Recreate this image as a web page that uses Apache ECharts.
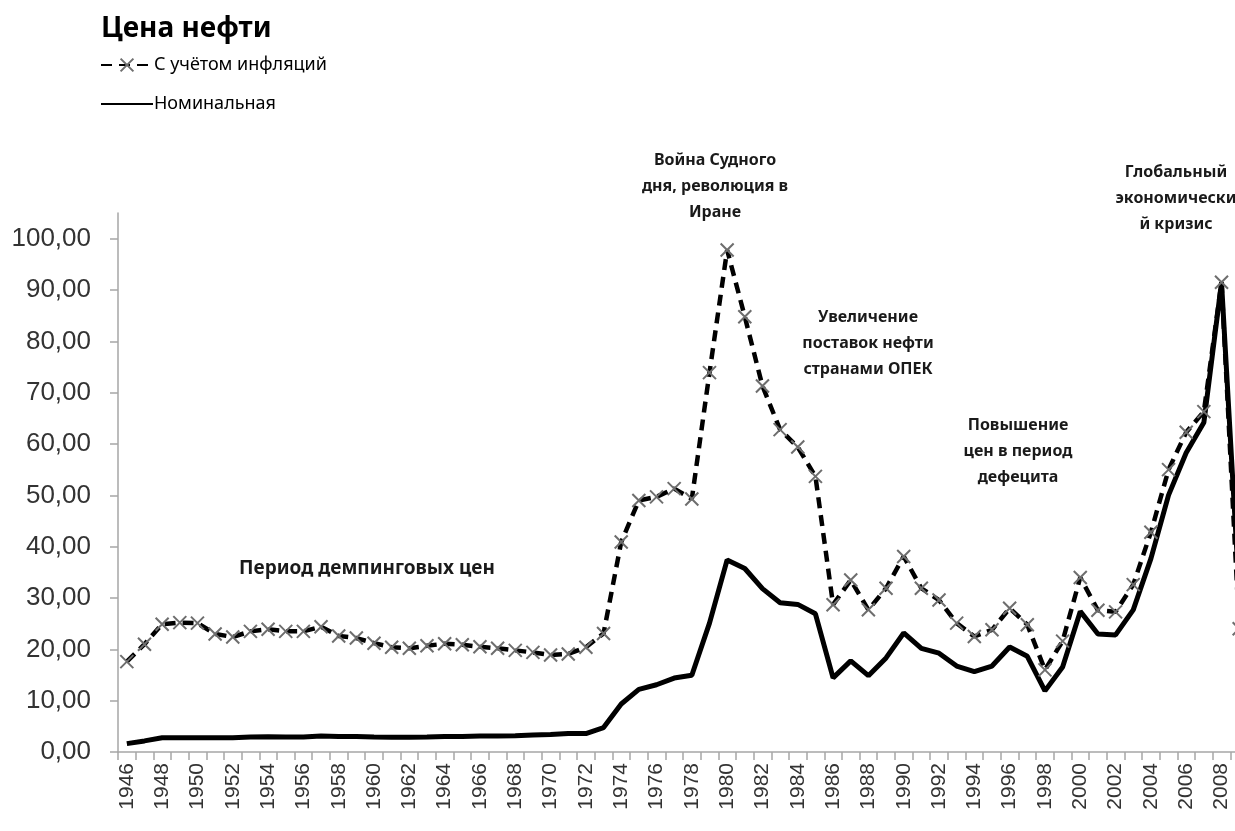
<!DOCTYPE html>
<html>
<head>
<meta charset="utf-8">
<script src="https://cdn.jsdelivr.net/npm/echarts@6/dist/echarts.min.js"></script>
<style>
  html, body { margin: 0; padding: 0; background: #fff; overflow: hidden; }
  #chart { width: 1250px; height: 831px; }
</style>
</head>
<body>
<div id="chart"></div>
<script>
// ---- data ----
const years = [];
for (let y = 1946; y <= 2009; y++) years.push(String(y));

const realPrice = [
  17.6, 21.0, 24.9, 25.2, 25.1, 23.0, 22.4, 23.5, 23.9, 23.5,
  23.5, 24.4, 22.6, 22.2, 21.2, 20.4, 20.2, 20.7, 21.1, 20.9,
  20.5, 20.2, 19.8, 19.4, 18.9, 19.1, 20.4, 23.1, 40.9, 49.0,
  49.7, 51.3, 49.3, 73.9, 97.8, 84.8, 71.3, 62.8, 59.4, 53.7,
  28.7, 33.5, 27.7, 31.9, 38.1, 31.9, 29.6, 25.1, 22.5, 23.8,
  28.0, 24.8, 16.0, 21.6, 34.0, 27.6, 27.3, 32.6, 42.8, 55.0,
  62.3, 66.3, 91.5, 24.0
];

const nominalPrice = [
  1.63, 2.16, 2.77, 2.77, 2.77, 2.77, 2.77, 2.92, 2.99, 2.93,
  2.94, 3.14, 3.00, 3.00, 2.91, 2.85, 2.85, 2.91, 3.00, 3.01,
  3.10, 3.12, 3.18, 3.32, 3.39, 3.60, 3.60, 4.75, 9.35, 12.21,
  13.10, 14.40, 14.95, 25.10, 37.42, 35.75, 31.83, 29.08, 28.75, 26.92,
  14.44, 17.75, 14.87, 18.33, 23.19, 20.20, 19.25, 16.75, 15.66, 16.75,
  20.46, 18.64, 11.91, 16.56, 27.39, 23.00, 22.81, 27.69, 37.66, 50.04,
  58.30, 64.20, 91.48, 31.0
];

const yTicks = [0, 10, 20, 30, 40, 50, 60, 70, 80, 90, 100];

const seriesNames = ['С учётом инфляций', 'Номинальная'];
const titleText = 'Цена нефти';

const notes = [
  { text: 'Война Судного\nдня, революция в\nИране', x: 715, y: 147, size: 16 },
  { text: 'Глобальный\nэкономически\nй кризис', x: 1176, y: 159, size: 16 },
  { text: 'Увеличение\nпоставок нефти\nстранами ОПЕК', x: 868, y: 304, size: 16 },
  { text: 'Повышение\nцен в период\nдефецита', x: 1018, y: 412, size: 16 },
  { text: 'Период демпинговых цен', x: 367, y: 556, size: 19 }
];

// ---- chart ----
const chart = echarts.init(document.getElementById('chart'), null, { renderer: 'canvas' });
const FONT = '"Noto Sans", "Open Sans", sans-serif';
const NUMFONT = '"Liberation Sans", Arial, sans-serif';

const option = {
  backgroundColor: '#ffffff',
  animation: false,
  title: {
    text: titleText,
    left: 96, top: 10,
    textStyle: { fontFamily: FONT, fontSize: 28, fontWeight: 'bold', color: '#000' }
  },
  legend: {
    orient: 'vertical',
    left: 95, top: 51,
    itemWidth: 52, itemHeight: 16, itemGap: 21,
    data: [
      { name: seriesNames[0] },
      { name: seriesNames[1], itemStyle: { color: 'rgba(0,0,0,0)', borderWidth: 0, opacity: 0 } }
    ],
    textStyle: { fontFamily: FONT, fontSize: 18, color: '#000', padding: [0, 0, 0, -4] }
  },
  grid: { left: 118, top: 213, bottom: 79, right: 2, containLabel: false },
  xAxis: {
    type: 'category',
    data: years,
    boundaryGap: true,
    axisLine: { lineStyle: { color: '#a6a6a6', width: 1.5 } },
    axisTick: { show: true, interval: 0, length: 8, lineStyle: { color: '#a6a6a6', width: 1.5 } },
    axisLabel: {
      interval: 1, rotate: 90, margin: 11,
      fontFamily: NUMFONT, fontSize: 21, color: '#333'
    },
    splitLine: { show: false }
  },
  yAxis: {
    type: 'value',
    min: 0, max: 105,
    axisLine: { show: true, lineStyle: { color: '#a6a6a6', width: 1.5 } },
    axisTick: { show: true, length: 8, customValues: yTicks, lineStyle: { color: '#a6a6a6', width: 1.5 } },
    axisLabel: {
      customValues: yTicks,
      margin: 27,
      fontFamily: NUMFONT, fontSize: 26, color: '#333',
      formatter: v => v.toFixed(2).replace('.', ',')
    },
    splitLine: { show: false }
  },
  series: [
    {
      name: seriesNames[0],
      type: 'line',
      data: realPrice,
      z: 3,
      symbol: 'path://M0,0L10,10M10,0L0,10',
      symbolSize: 13,
      showAllSymbol: true,
      itemStyle: { color: '#6e6e6e', borderColor: '#6e6e6e', borderWidth: 2 },
      lineStyle: { color: '#000', width: 4.5, type: [11, 7] }
    },
    {
      name: seriesNames[1],
      type: 'line',
      data: nominalPrice,
      z: 2,
      symbol: 'none',
      itemStyle: { color: '#000' },
      lineStyle: { color: '#000', width: 5 }
    }
  ],
  graphic: notes.map(n => ({
    type: 'text',
    x: n.x, y: n.y,
    style: {
      text: n.text,
      align: 'center',
      verticalAlign: 'top',
      fontFamily: FONT,
      fontWeight: 'bold',
      fontSize: n.size,
      lineHeight: 26,
      fill: '#1a1a1a'
    }
  }))
};

chart.setOption(option);
</script>
</body>
</html>
